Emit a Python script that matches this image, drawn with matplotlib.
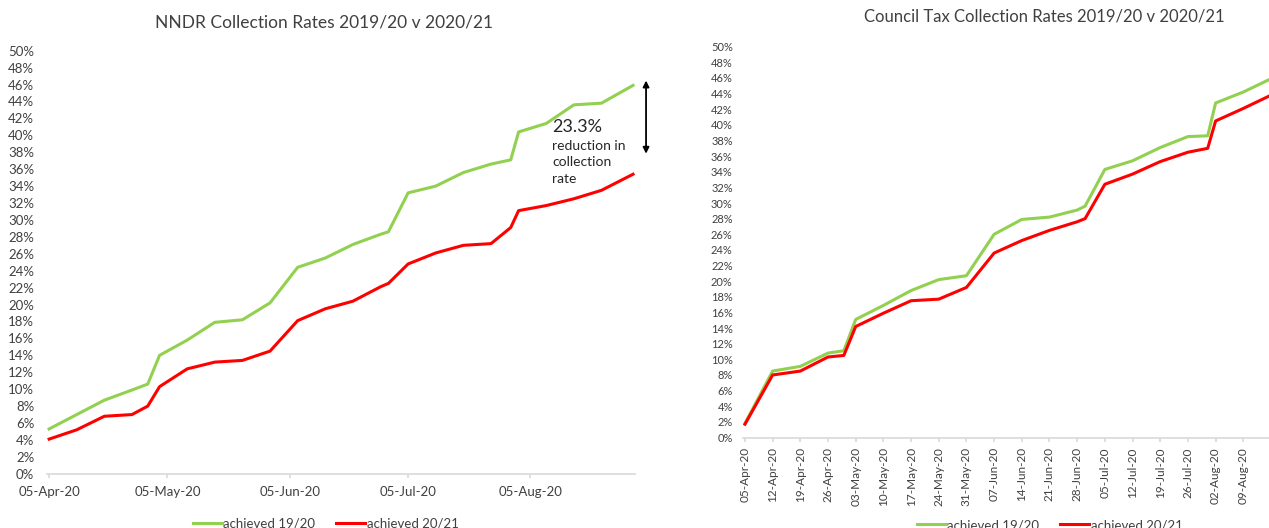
import numpy as np
import pandas as pd
import matplotlib
matplotlib.use('Agg')
import matplotlib.pyplot as plt
import matplotlib.dates as mdates

plt.rcParams['font.family'] = ['Lato', 'DejaVu Sans']

# NNDR (business rates) - cumulative collection rate %
nndr_dates = ['2020-04-05', '2020-04-12', '2020-04-19', '2020-04-26', '2020-04-30',
              '2020-05-03', '2020-05-10', '2020-05-17', '2020-05-24', '2020-05-31',
              '2020-06-07', '2020-06-14', '2020-06-21', '2020-06-28', '2020-06-30',
              '2020-07-05', '2020-07-12', '2020-07-19', '2020-07-26', '2020-07-31',
              '2020-08-02', '2020-08-09', '2020-08-16', '2020-08-23', '2020-08-31']
nndr_1920 = [5.3, 7.0, 8.7, 9.9, 10.6,
             14.0, 15.8, 17.9, 18.2, 20.2,
             24.4, 25.5, 27.1, 28.3, 28.6,
             33.2, 34.0, 35.6, 36.6, 37.1,
             40.4, 41.4, 43.6, 43.8, 45.9]
nndr_2021 = [4.1, 5.2, 6.8, 7.0, 8.0,
             10.3, 12.4, 13.2, 13.4, 14.5,
             18.1, 19.5, 20.4, 22.1, 22.5,
             24.8, 26.1, 27.0, 27.2, 29.1,
             31.1, 31.7, 32.5, 33.5, 35.4]

# Council tax - cumulative collection rate %
ctax_dates = ['2020-04-05', '2020-04-12', '2020-04-19', '2020-04-26', '2020-04-30',
              '2020-05-03', '2020-05-10', '2020-05-17', '2020-05-24', '2020-05-31',
              '2020-06-07', '2020-06-14', '2020-06-21', '2020-06-28', '2020-06-30',
              '2020-07-05', '2020-07-12', '2020-07-19', '2020-07-26', '2020-07-31',
              '2020-08-02', '2020-08-09', '2020-08-16']
ctax_1920 = [1.8, 8.5, 9.1, 10.8, 11.1,
             15.1, 16.9, 18.8, 20.2, 20.7,
             26.0, 27.9, 28.2, 29.1, 29.6,
             34.3, 35.4, 37.1, 38.5, 38.6,
             42.8, 44.2, 45.9]
ctax_2021 = [1.7, 8.0, 8.5, 10.3, 10.5,
             14.2, 15.9, 17.5, 17.7, 19.2,
             23.6, 25.2, 26.5, 27.6, 28.0,
             32.4, 33.7, 35.3, 36.5, 37.0,
             40.5, 42.1, 43.8]

y_ticks = list(range(0, 51, 2))
labels = ['achieved 19/20', 'achieved 20/21']
GREEN = '#92D050'
RED = '#FF0000'
TXT = '#404040'
AXC = '#D9D9D9'

nd = pd.to_datetime(nndr_dates)
cd = pd.to_datetime(ctax_dates)

W, H = 1269, 528
fig = plt.figure(figsize=(W / 100, H / 100), dpi=100)

def px(x0, y0, x1, y1):
    return [x0 / W, 1 - y1 / H, (x1 - x0) / W, (y1 - y0) / H]

def style(ax, fs, ypad, xpad):
    for s in ['top', 'right', 'left']:
        ax.spines[s].set_visible(False)
    ax.spines['bottom'].set_color(AXC)
    ax.spines['bottom'].set_linewidth(1.2)
    ax.set_ylim(0, 50)
    ax.set_yticks(y_ticks)
    ax.set_yticklabels([f'{v}%' for v in y_ticks])
    ax.tick_params(axis='y', length=0, pad=ypad, labelsize=fs, labelcolor=TXT)
    ax.tick_params(axis='x', length=3, width=1.2, color=AXC, pad=xpad, labelcolor=TXT)

# ---- NNDR
ax1 = fig.add_axes(px(47.3, 50.7, 635, 473.8))
ax1.plot(nd, nndr_1920, color=GREEN, lw=2.2, label=labels[0])
ax1.plot(nd, nndr_2021, color=RED, lw=2.2, label=labels[1])
ax1.set_xlim(nd[0] - pd.Timedelta(hours=11), nd[-1] + pd.Timedelta(hours=12))
style(ax1, 9.5, 9.4, 6)
ax1.xaxis.set_major_locator(mdates.MonthLocator(bymonthday=5))
ax1.xaxis.set_major_formatter(mdates.DateFormatter('%d-%b-%y'))
ax1.tick_params(axis='x', labelsize=9.5)
fig.text(324 / W, 1 - 22.7 / H, 'NNDR Collection Rates 2019/20 v 2020/21',
         ha='center', va='center', fontsize=12.5, color=TXT)

ax1.annotate('', xy=(nd[0] + pd.Timedelta(days=151.3), 46.8),
             xytext=(nd[0] + pd.Timedelta(days=151.3), 37.5),
             arrowprops=dict(arrowstyle='<|-|>', color='black', lw=1.3, mutation_scale=9),
             annotation_clip=False)
ax1.text(552 / W, 1 - 127 / H, '23.3%', transform=fig.transFigure,
         ha='left', va='center', fontsize=13, color='#262626')
ax1.text(552 / W, 1 - 140 / H, 'reduction in\ncollection\nrate', transform=fig.transFigure,
         ha='left', va='top', fontsize=10, color='#262626', linespacing=1.45)

ax1.legend(loc='center left', bbox_to_anchor=(193 / W, 1 - 524 / H),
           bbox_transform=fig.transFigure, ncol=2, frameon=False, fontsize=9.5,
           borderpad=0, borderaxespad=0, handlelength=2.2, handletextpad=0.1,
           columnspacing=1.6, labelcolor=TXT)

# ---- Council tax
ax2 = fig.add_axes(px(743.3, 46.7, 1269, 437.5))
ax2.plot(cd, ctax_1920, color=GREEN, lw=2.2, label=labels[0])
ax2.plot(cd, ctax_2021, color=RED, lw=2.2, label=labels[1])
ax2.set_xlim(cd[0] - pd.Timedelta(hours=10), cd[0] + pd.Timedelta(days=132.5))
style(ax2, 8, 7.6, 4)
ax2.xaxis.set_major_locator(mdates.WeekdayLocator(byweekday=mdates.SU))
ax2.xaxis.set_major_formatter(mdates.DateFormatter('%d-%b-%y'))
ax2.tick_params(axis='x', labelsize=8.5, labelrotation=90)
fig.text(1044 / W, 1 - 16.7 / H, 'Council Tax Collection Rates 2019/20 v 2020/21',
         ha='center', va='center', fontsize=12, color=TXT)

ax2.legend(loc='center left', bbox_to_anchor=(917 / W, 1 - 525 / H),
           bbox_transform=fig.transFigure, ncol=2, frameon=False, fontsize=9.5,
           borderpad=0, borderaxespad=0, handlelength=2.2, handletextpad=0.1,
           columnspacing=1.6, labelcolor=TXT)

fig.savefig('out.png', dpi=100)
